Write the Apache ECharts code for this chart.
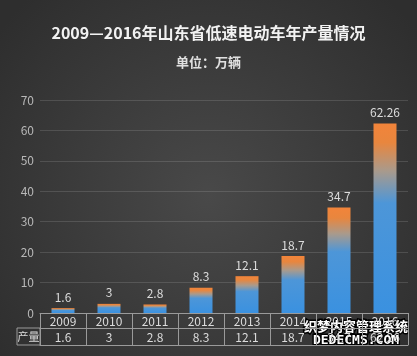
<!DOCTYPE html>
<html><head><meta charset="utf-8">
<script src="https://cdn.jsdelivr.net/npm/echarts@6/dist/echarts.min.js"></script>
<style>html,body{margin:0;padding:0;background:#333;}#c{width:417px;height:356px;}</style>
</head><body><div id="c"></div>
<script>
var years = ['2009','2010','2011','2012','2013','2014','2015','2016'];
var output = [1.6, 3, 2.8, 8.3, 12.1, 18.7, 34.7, 62.26];
var yTicks = {min: 0, max: 70, interval: 10};
var titleText = '2009—2016年山东省低速电动车年产量情况';
var unitText = '单位：万辆';
var rowLabel = '产量';

var FONT = '"Noto Sans CJK SC", "Noto Sans", sans-serif';
var chart = echarts.init(document.getElementById('c'), null, {renderer: 'canvas'});
var lineColor = '#9a9a9a';
chart.setOption({
  backgroundColor: {type: 'radial', x: 0.5, y: 0.55, r: 0.75,
    colorStops: [{offset: 0, color: '#494949'}, {offset: 1, color: '#2e2e2e'}]},
  textStyle: {fontFamily: FONT},
  title: [
    {text: titleText, left: 'center', top: 20,
     textStyle: {color: '#f2f2f2', fontSize: 16, fontWeight: 'bold', fontFamily: FONT}},
    {text: unitText, left: 'center', top: 51,
     textStyle: {color: '#e0e0e0', fontSize: 13, fontWeight: 'bold', fontFamily: FONT}}
  ],
  grid: {left: 40, right: 9, top: 100, bottom: 43, containLabel: false},
  yAxis: {type: 'value', min: yTicks.min, max: yTicks.max, interval: yTicks.interval,
    axisLine: {show: false}, axisTick: {show: false},
    axisLabel: {color: '#b8b8b8', fontSize: 12, margin: 6, fontFamily: FONT},
    splitLine: {lineStyle: {color: 'rgba(255,255,255,0.13)', width: 1}}},
  xAxis: [
    {type: 'category', data: years, position: 'bottom',
     axisLine: {show: true, lineStyle: {color: lineColor, width: 1}},
     axisTick: {show: true, length: 32, interval: 0, lineStyle: {color: lineColor}},
     axisLabel: {color: '#dcdcdc', fontSize: 12, margin: 2, interval: 0, fontFamily: FONT}},
    {type: 'category', data: output.map(String), position: 'bottom', offset: 15,
     axisLine: {show: true, lineStyle: {color: lineColor, width: 1}},
     axisTick: {show: false},
     axisLabel: {color: '#dcdcdc', fontSize: 12, margin: 3, interval: 0, fontFamily: FONT}},
    {type: 'category', data: years, position: 'bottom', offset: 32,
     axisLine: {show: true, lineStyle: {color: lineColor, width: 1}},
     axisTick: {show: false}, axisLabel: {show: false}}
  ],
  series: [{
    type: 'bar', data: output, xAxisIndex: 0, barWidth: 23,
    itemStyle: {color: new echarts.graphic.LinearGradient(0, 0, 0, 1, [
      {offset: 0, color: '#f2843a'},
      {offset: 0.1, color: '#e8863e'},
      {offset: 0.25, color: '#a99a8c'},
      {offset: 0.42, color: '#4d96d8'},
      {offset: 1, color: '#3a91e0'}
    ])},
    label: {show: true, position: 'top', distance: 5, color: '#dcdcdc', fontSize: 12, fontFamily: FONT}
  }],
  graphic: [
    {type: 'rect', shape: {x: 17, y: 328, width: 23, height: 17},
     style: {fill: 'none', stroke: lineColor, lineWidth: 1}},
    {type: 'text', x: 28.5, y: 336.5,
     style: {text: rowLabel, fill: '#dcdcdc', fontSize: 11, fontFamily: FONT, align: 'center', verticalAlign: 'middle'}},
    {type: 'text', x: 356, y: 326,
     style: {text: '织梦内容管理系统', fill: '#ffffff', stroke: '#000', lineWidth: 3, fontSize: 13, fontWeight: 'bold', fontFamily: FONT, align: 'center', verticalAlign: 'middle'}},
    {type: 'text', x: 356, y: 341,
     style: {text: 'DEDECMS.COM', fill: '#ffffff', stroke: '#000', lineWidth: 3, fontSize: 13, fontWeight: 'bold', fontFamily: '"DejaVu Sans Mono", monospace', align: 'center', verticalAlign: 'middle'}}
  ]
});
</script></body></html>
